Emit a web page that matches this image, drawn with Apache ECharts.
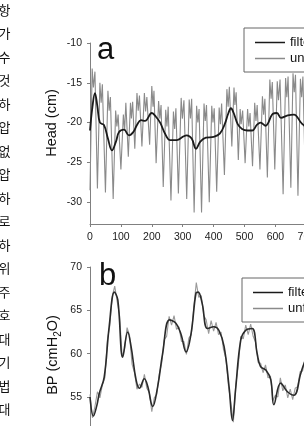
<!DOCTYPE html>
<html><head><meta charset="utf-8">
<script src="https://cdn.jsdelivr.net/npm/echarts@6/dist/echarts.min.js"></script>
<style>html,body{margin:0;padding:0;overflow:hidden;background:#fff;width:304px;height:426px}
#c{width:304px;height:426px}</style></head>
<body><div id="c"></div>
<script>
// ---- data ----
const sideText = ['항','가','수','것','하','압','없','압','하','로','하','위','주','호','대','기','법','대'];
const headTicks = [-30, -25, -20, -15, -10];
const bpTicks = [55, 60, 65, 70];
const xTicks = [0, 100, 200, 300, 400, 500, 600, 700, 800];
const legendNames = ['filtered', 'unfiltered'];

const headX = [0,7,11,16, 24,32,36,40, 50,58,62,66, 75,83,87,91, 100,108,112,116, 124,131,134,138,
  145,152,156,160, 168,176,180,184, 193,200,204,207, 214,222,226,230, 237,245,249,253, 262,270,274,278,
  286,295,299,304, 313,321,325,329, 337,345,349,353, 361,369,373,377, 386,394,398,402, 410,418,422,426,
  435,443,447,451, 459,466,469,473, 480,486,489,494, 502,510,514,518, 526,533,537,541, 550,558,562,566,
  574,582,586,590, 598,606,610,615, 625,633,637,641, 650,657,661,665, 673,681,685,689, 698,706,710,714, 722,730];
const headRaw = [-28.5,-13.2,-15.6,-13.6, -28.3,-15.0,-17.5,-15.2, -28.8,-16.0,-18.5,-16.8, -29.6,-18.5,-20.5,-19.0,
  -25.9,-19.0,-21.0,-17.5, -24.3,-17.5,-19.5,-17.4, -23.3,-16.3,-18.5,-16.6, -23.0,-16.3,-18.6,-16.8,
  -22.8,-15.4,-18.0,-16.0, -25.1,-17.3,-19.5,-17.8, -28.1,-18.4,-20.5,-18.0, -29.8,-18.6,-20.8,-18.2,
  -28.9,-16.9,-19.5,-17.2, -29.6,-17.1,-19.5,-17.0, -31.3,-17.9,-20.0,-18.3, -31.3,-17.6,-19.8,-17.8,
  -30.0,-17.9,-20.0,-18.2, -28.7,-18.1,-20.2,-17.6, -26.6,-15.8,-18.0,-15.5, -23.0,-15.6,-17.8,-16.2,
  -24.7,-18.3,-20.2,-18.5, -25.1,-18.3,-20.5,-18.8, -25.5,-17.5,-19.8,-17.8, -25.9,-16.7,-19.0,-17.0,
  -26.9,-14.6,-17.0,-14.9, -25.9,-14.8,-17.2,-14.6, -29.0,-14.4,-16.8,-14.2, -28.2,-13.8,-16.2,-14.0,
  -29.2,-14.5,-16.8,-14.2, -29.0,-14.0,-16.5,-14.8, -28.0,-15.0];

const headFiltX = [0,8,16,24,32,45,58,71,84,94,110,126,140,152,165,178,200,214,227,243,259,281,300,313,329,343,357,375,400,420,436,448,456,465,478,492,510,525,540,552,568,592,605,618,640,660,685,705,730];
const headFilt = [-21.0,-18.0,-16.3,-18.0,-20.0,-20.3,-22.0,-23.5,-22.4,-21.2,-20.9,-21.6,-21.2,-20.3,-19.7,-19.8,-18.8,-19.3,-20.0,-21.4,-22.2,-22.2,-21.8,-21.6,-22.0,-23.3,-22.4,-21.9,-21.8,-21.4,-20.2,-18.8,-18.2,-18.8,-20.2,-20.8,-21.0,-21.0,-20.3,-20.0,-20.4,-18.9,-18.8,-19.4,-19.1,-19.0,-20.1,-20.6,-20.0];

const bpX = [0,8,16,24,32,40,48,56,64,72,80,88,96,104,112,120,128,136,144,152,160,168,176,184,192,200,208,216,224,232,240,248,256,264,272,280,288,296,304,312,320,328,336,344,352,360,368,376,384,392,400,408,416,424,432,440,448,456,464,472,480,488,496,504,512,520,528,536,544,552,560,568,576,584,592,600,608,616,624,632,640,648,656,664,672,680,688,696,704,712,720];
const bpRaw = [55.3,52.6,53.9,55.6,54.9,56.4,57.2,61.5,63.2,66.6,67.8,66.0,64.3,59.6,60.6,63.0,62.1,58.8,57.8,55.9,56.5,56.1,57.6,56.0,55.5,53.3,54.9,55.3,57.6,58.9,61.6,62.0,64.3,63.3,64.4,62.8,63.1,61.4,61.4,59.9,61.8,62.2,65.4,68.2,66.5,66.7,64.4,63.9,62.3,63.8,62.6,63.6,62.2,62.5,60.5,59.4,56.3,54.3,52.1,56.5,58.6,62.0,61.7,63.3,62.2,63.4,62.0,61.3,59.0,58.9,57.8,58.7,57.2,57.4,54.6,55.2,55.0,57.2,55.7,56.4,54.9,55.9,54.7,56.0,56.2,57.9,58.0,59.5,59.4,60.8,60.6];
const bpFiltX = [0,11,22,30,46,62,79,90,106,122,133,149,160,176,187,203,219,235,257,278,294,311,327,343,350,363,380,401,417,434,450,461,471,488,504,525,541,552,569,585,595,617,639,660,682,693,720];
const bpFilt = [55.0,52.8,54.0,55.4,57.3,63.1,67.1,66.2,59.6,62.5,60.8,57.0,56.0,57.1,56.2,53.9,56.2,60.0,63.9,63.5,62.3,60.2,62.3,67.0,67.1,65.8,62.9,63.1,62.7,60.8,56.2,52.3,55.8,61.6,62.7,62.9,60.0,58.5,58.1,57.0,54.1,56.6,55.6,55.2,57.7,58.9,61.0];

// ---- chart ----
const FONT = '"Liberation Sans", Arial, sans-serif';
const AX = '#808080';
const pairs = (xs, ys) => xs.map((x, i) => [x, ys[i]]);

const chart = echarts.init(document.getElementById('c'), null, {renderer: 'canvas'});

function xAxisDef(gi) {
  return {
    type: 'value', gridIndex: gi, min: 0, max: 800, interval: 100,
    axisLine: {show: true, lineStyle: {color: AX, width: 1}},
    axisTick: {show: true, length: 3, inside: false, lineStyle: {color: AX}},
    axisLabel: {show: true, margin: 8, fontSize: 10.5, color: '#1a1a1a', fontFamily: FONT},
    splitLine: {show: false}
  };
}
function yAxisDef(gi, min, max, ticks) {
  return {
    type: 'value', gridIndex: gi, min: min, max: max,
    axisLine: {show: true, lineStyle: {color: AX, width: 1}},
    axisTick: {show: true, length: 3, inside: false, lineStyle: {color: AX}, customValues: ticks},
    axisLabel: {show: true, margin: 8, fontSize: 10.5, color: '#1a1a1a', fontFamily: FONT, customValues: ticks},
    splitLine: {show: false}
  };
}
function legendDef(left, top) {
  return {
    left: left, top: top, orient: 'vertical', data: legendNames,
    icon: 'rect', itemWidth: 30, itemHeight: 1.5, itemGap: 3,
    padding: [8, 10, 7, 11], borderColor: '#666', borderWidth: 1,
    selectedMode: false,
    textStyle: {fontSize: 13, lineHeight: 12, color: '#111', fontFamily: FONT}
  };
}
const GRAY = '#8a8a8a', BLACK = '#1a1a1a';

const graphics = [];
sideText.forEach((ch, i) => {
  graphics.push({type: 'text', x: -1.5, y: 10 + 23.5 * i,
    style: {text: ch, font: '13px "Noto Sans CJK KR"', fill: '#111', textVerticalAlign: 'middle'}});
});
graphics.push({type: 'text', x: 97, y: 66, style: {text: 'a', font: '31px ' + FONT, fill: '#111', textVerticalAlign: 'bottom'}});
graphics.push({type: 'text', x: 99, y: 292, style: {text: 'b', font: '31px ' + FONT, fill: '#111', textVerticalAlign: 'bottom'}});
graphics.push({type: 'text', x: 52, y: 123, rotation: Math.PI / 2,
  style: {text: 'Head (cm)', font: '14.5px ' + FONT, fill: '#111', textAlign: 'center', textVerticalAlign: 'middle'}});
graphics.push({type: 'text', x: 53, y: 355, rotation: Math.PI / 2,
  style: {text: '{m|BP (cmH}{s|2}{m|O)}', textAlign: 'center', textVerticalAlign: 'middle',
    rich: {m: {fontSize: 14.5, fontFamily: FONT, fill: '#111', lineHeight: 20, verticalAlign: 'middle'},
           s: {fontSize: 10, fontFamily: FONT, fill: '#111', lineHeight: 11, verticalAlign: 'bottom'}}}});

chart.setOption({
  animation: false,
  backgroundColor: '#fff',
  grid: [
    {left: 90, top: 43, width: 247.2, height: 181, containLabel: false, outerBoundsMode: 'none'},
    {left: 90, top: 267, width: 247.2, height: 173.3, containLabel: false, outerBoundsMode: 'none'}
  ],
  xAxis: [xAxisDef(0), xAxisDef(1)],
  yAxis: [yAxisDef(0, -32.75, -10, headTicks), yAxisDef(1, 50, 70, bpTicks)],
  legend: [legendDef(244, 28), legendDef(242, 278)],
  graphic: graphics,
  series: [
    {name: 'unfiltered', type: 'line', xAxisIndex: 0, yAxisIndex: 0, data: pairs(headX, headRaw),
     showSymbol: false, symbol: 'none', lineStyle: {color: GRAY, width: 1.1}, itemStyle: {color: GRAY}, z: 2},
    {name: 'filtered', type: 'line', xAxisIndex: 0, yAxisIndex: 0, data: pairs(headFiltX, headFilt),
     smooth: 0.4, showSymbol: false, symbol: 'none', lineStyle: {color: BLACK, width: 1.8}, itemStyle: {color: BLACK}, z: 3},
    {name: 'unfiltered', type: 'line', xAxisIndex: 1, yAxisIndex: 1, data: pairs(bpX, bpRaw),
     showSymbol: false, symbol: 'none', lineStyle: {color: '#9a9a9a', width: 1.1}, itemStyle: {color: GRAY}, z: 2},
    {name: 'filtered', type: 'line', xAxisIndex: 1, yAxisIndex: 1, data: pairs(bpFiltX, bpFilt),
     smooth: 0.4, showSymbol: false, symbol: 'none', lineStyle: {color: '#2a2a2a', width: 1.6}, itemStyle: {color: BLACK}, z: 3}
  ]
});
</script></body></html>
